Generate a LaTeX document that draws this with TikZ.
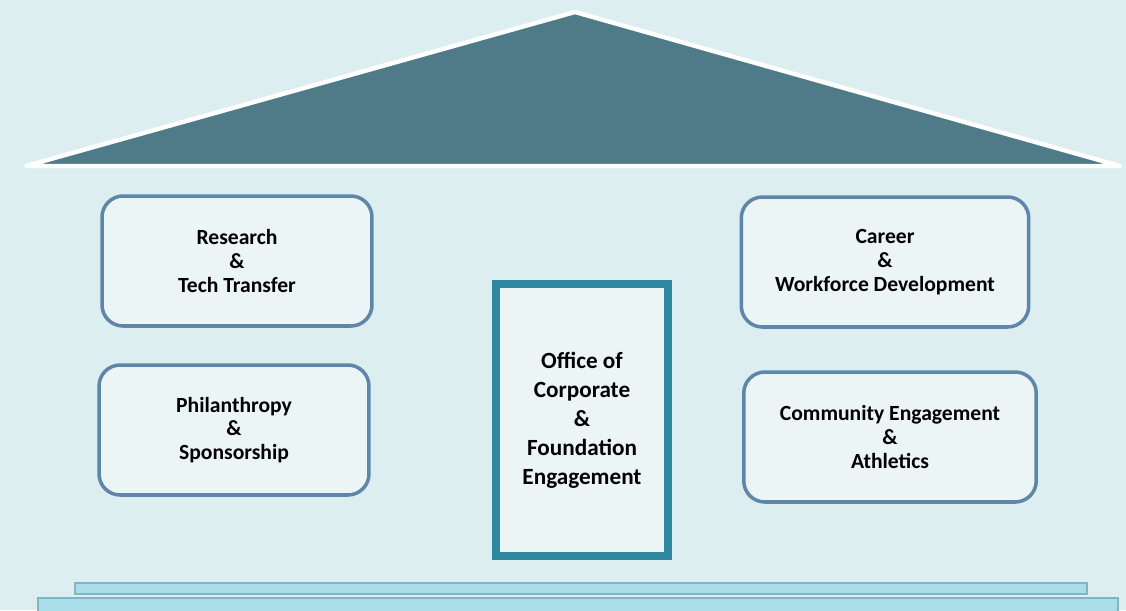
\documentclass[tikz,border=0pt]{standalone}
\usepackage{fontspec}
\setmainfont{Carlito}
\usetikzlibrary{positioning}

\definecolor{wallbg}{HTML}{DDEEF0}
\definecolor{roofteal}{HTML}{4F7B88}
\definecolor{boxline}{HTML}{5F86A8}
\definecolor{officeline}{HTML}{2F88A0}
\definecolor{barblue}{HTML}{A9DDE8}
\definecolor{baredge}{HTML}{7FB6C4}

\tikzset{
    unitbox/.style={draw=boxline, line width=2pt, rounded corners=12pt, fill=white!40!wallbg,
        minimum width=5.4cm, minimum height=2.6cm, align=center,
        font=\bfseries\fontsize{12.3}{13.5}\selectfont},
    officebox/.style={draw=officeline, line width=4.5pt, fill=white!40!wallbg,
        minimum width=3.45cm, minimum height=5.45cm, align=center,
        font=\bfseries\fontsize{13.2}{16.5}\selectfont},
    basebar/.style={fill=barblue, draw=baredge, line width=0.6pt}
}

\begin{document}
\begin{tikzpicture}[x=0.02cm, y=-0.02cm]
    % Hintergrund
    \fill[wallbg] (0,0) rectangle (1126,610);
    \useasboundingbox (0,0) rectangle (1126,610);

    % Dach
    \draw[fill=roofteal, draw=white, line width=2.5pt, line join=round]
        (26,166) -- (575,12) -- (1120,166) -- cycle;

    % Saeulen links
    \node[unitbox] (research) at (237,261) {Research\\\&\\Tech Transfer};
    \node[unitbox] (philanthropy) at (234,430) {Philanthropy\\\&\\Sponsorship};

    % Saeulen rechts
    \node[unitbox, minimum width=5.75cm] (career) at (885,262) {Career\\\&\\Workforce Development};
    \node[unitbox, minimum width=5.85cm] (community) at (890,437) {Community Engagement\\\&\\Athletics};

    % Mitte
    \node[officebox] (office) at (582,420) {Office of\\Corporate\\\&\\Foundation\\Engagement};

    % Fundament
    \draw[basebar] (75,583) rectangle (1087,594);
    \draw[basebar] (38,598) rectangle (1118,612);
\end{tikzpicture}
\end{document}
